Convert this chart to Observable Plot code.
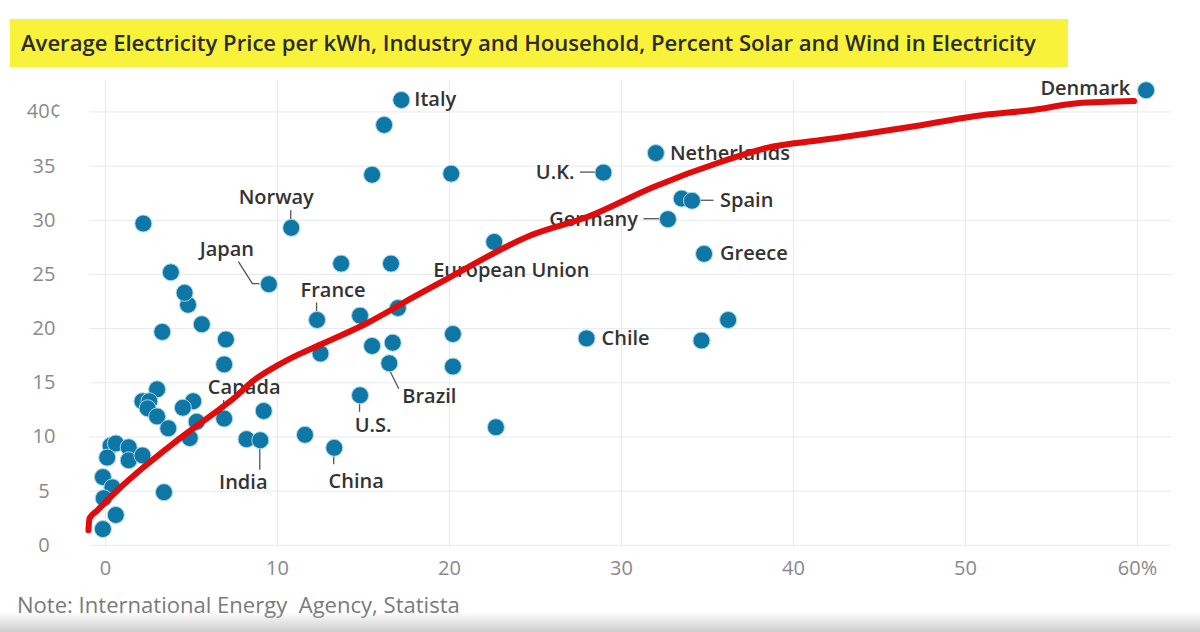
<!DOCTYPE html>
<html><head><meta charset="utf-8">
<script src="https://cdn.jsdelivr.net/npm/d3@7"></script>
<script src="https://cdn.jsdelivr.net/npm/@observablehq/plot@0.6"></script>
<style>
body{margin:0;background:#fff;width:1200px;height:632px;overflow:hidden;position:relative;font-family:"Open Sans",sans-serif}
#chart{position:absolute;left:0;top:0}
#title{position:absolute;left:10px;top:19px;width:1058px;height:48px;background:#f9f23a;}
#title span{position:absolute;left:11px;top:50%;transform:translateY(-52%);font-weight:600;font-size:19.5px;color:#2b2b2b;white-space:nowrap}
#note{position:absolute;left:17px;top:589px;font-size:19px;color:#7a7a7a;white-space:pre}
#shade{position:absolute;left:0;top:612px;width:1200px;height:20px;background:linear-gradient(rgba(255,255,255,0),#cdcdcd)}
</style></head>
<body>
<div id="chart"></div>
<div id="title"><span id="titletext">Average Electricity Price per kWh, Industry and Household, Percent Solar and Wind in Electricity</span></div>
<div id="note">Note: International Energy  Agency, Statista</div>
<div id="shade"></div>
<script>
// Labeled countries: share of solar+wind (%), price (cents per kWh)
const labelNames = ["Denmark","Italy","Netherlands","U.K.","Spain","Germany","Greece","Chile","European Union","Norway","Japan","France","Brazil","U.S.","China","India","Canada"];
const labelX = [60.5,17.2,32.0,28.95,34.1,32.7,34.8,27.97,22.6,10.8,9.5,12.3,16.5,14.8,13.3,9.0,6.9];
const labelY = [42.0,41.1,36.2,34.4,31.8,30.1,26.9,19.1,28.0,29.3,24.1,20.8,16.8,13.85,9.0,9.7,11.7];

// Unlabeled countries
const otherX = [33.5,16.2,15.5,20.1,36.2,34.65,13.7,16.6,14.8,17.0,20.2,15.5,16.7,12.5,20.2,9.2,22.7,11.6,8.2,7.0,6.9,5.6,4.8,4.6,3.8,2.2,3.3,5.1,4.5,5.3,4.9,3.0,2.15,2.55,2.45,3.0,3.65,3.4,0.3,0.6,0.1,1.35,1.35,2.15,-0.15,0.4,-0.1,0.6,-0.15];
const otherY = [32.0,38.8,34.2,34.3,20.8,18.9,26.0,26.0,21.2,21.9,19.5,18.4,18.7,17.7,16.5,12.4,10.9,10.2,9.8,19.0,16.7,20.4,22.2,23.3,25.2,29.7,19.7,13.3,12.7,11.4,9.9,14.4,13.3,13.3,12.65,11.9,10.8,4.9,9.2,9.4,8.1,9.05,7.85,8.3,6.3,5.35,4.35,2.8,1.5];

// Hand-drawn trend line
const trendX = [-0.99,-0.93,-0.47,0.70,2.21,3.95,6.28,7.44,8.60,10.0,11.2,12.6,15.2,17.9,20.2,24.7,28.0,31.9,35.8,38.5,41.6,44.3,47.5,50.5,54.0,56.5,59.8];
const trendY = [1.39,2.49,3.23,5.08,7.20,9.42,12.15,13.55,15.2,16.6,17.6,18.6,20.5,22.9,24.9,28.6,30.3,33.1,35.4,36.7,37.4,38.0,38.8,39.6,40.2,40.8,41.0];

const xTicks = [0,10,20,30,40,50,60];
const yTicks = [0,5,10,15,20,25,30,35,40];

// label layout (pixel offsets) – presentation only
const layout = {
  "Denmark":{anchor:"end",dx:-16,dy:-2},
  "Italy":{anchor:"start",dx:13,dy:0},
  "Netherlands":{anchor:"start",dx:14,dy:0},
  "U.K.":{anchor:"end",dx:-29,dy:0,leader:[[-8,0],[-23,0]]},
  "Spain":{anchor:"start",dx:28,dy:0,leader:[[8,0],[22,0]]},
  "Germany":{anchor:"end",dx:-30,dy:0,leader:[[-8,0],[-24,0]]},
  "Greece":{anchor:"start",dx:16,dy:0},
  "Chile":{anchor:"start",dx:15,dy:0},
  "European Union":{anchor:"start",dx:-61,dy:29,leader:[[0,8],[0,15]]},
  "Norway":{anchor:"middle",dx:-15,dy:-30,leader:[[0,-8],[0,-17]]},
  "Japan":{anchor:"middle",dx:-42,dy:-35,leader:[[-9,0],[-16,0],[-30,-22]]},
  "France":{anchor:"middle",dx:16,dy:-29,leader:[[0,-8],[0,-17]]},
  "Brazil":{anchor:"middle",dx:40,dy:33,leader:[[1,8],[10,26]]},
  "U.S.":{anchor:"middle",dx:13,dy:30,leader:[[0,8],[0,17]]},
  "China":{anchor:"middle",dx:22,dy:34,leader:[[0,8],[0,17]]},
  "India":{anchor:"middle",dx:-17,dy:42,leader:[[0,8],[0,30]]},
  "Canada":{anchor:"middle",dx:20,dy:-31,leader:[[0,-7],[0,-18]]}
};

const labeled = labelNames.map((name,i)=>({name,x:labelX[i],y:labelY[i]}));
const others = otherX.map((x,i)=>({x,y:otherY[i]}));
const allPts = others.concat(labeled);
const trend = trendX.map((x,i)=>({x,y:trendY[i]}));

const dotFill = "#0f77a5";
const labelFont = {fontSize:20, fontWeight:600, fill:"#333"};

function leaders(index, scales) {
  const g = d3.create("svg:g").attr("fill","none").attr("stroke","#555").attr("stroke-width",1.3);
  for (const l of labeled) {
    const lay = layout[l.name];
    if (!lay.leader) continue;
    const px = scales.x(l.x), py = scales.y(l.y);
    g.append("polyline").attr("points", lay.leader.map(([dx,dy])=>`${px+dx},${py+dy}`).join(" "));
  }
  return g.node();
}

const chart = Plot.plot({
  width:1200, height:632,
  marginLeft:89.5, marginRight:28.6, marginTop:80, marginBottom:85,
  style:{fontFamily:"Open Sans", background:"transparent"},
  x:{domain:[-0.9,62], ticks:xTicks, tickSize:0, label:null},
  y:{domain:[-0.2,42.9], ticks:yTicks, tickSize:0, label:null},
  marks:[
    Plot.gridX(xTicks,{stroke:"#e6eaea",strokeOpacity:1}),
    Plot.gridY(yTicks,{stroke:"#e6eaea",strokeOpacity:1}),
    Plot.axisX(xTicks,{tickSize:0,tickPadding:13,tickFormat:d=>d===60?"60%":String(d),fontSize:20,fill:"#8a8a8a",label:null}),
    Plot.axisY(yTicks,{tickSize:0,tickPadding:46,textAnchor:"middle",tickFormat:d=>d===40?"40¢":String(d),fontSize:20,fill:"#8a8a8a",label:null}),
    leaders,
    Plot.dot(allPts,{x:"x",y:"y",r:8.5,fill:dotFill,stroke:"#a9d7ec",strokeWidth:1}),
    ...labeled.map(l=>Plot.text([l],{x:"x",y:"y",text:"name",textAnchor:layout[l.name].anchor,dx:layout[l.name].dx,dy:layout[l.name].dy,...labelFont})),
    Plot.line(trend,{x:"x",y:"y",stroke:"#e20b0b",strokeWidth:6,curve:"monotone-x",strokeLinecap:"round",strokeLinejoin:"round"})
  ]
});
document.getElementById("chart").appendChild(chart);

// fit title and note to the measured widths of the reference
function fit(el, target){
  const w = el.getBoundingClientRect().width;
  const fs = parseFloat(getComputedStyle(el).fontSize);
  el.style.fontSize = (fs*target/w).toFixed(2)+"px";
}
fit(document.getElementById("titletext"), 1015);
fit(document.getElementById("note"), 443);
</script>
</body></html>
